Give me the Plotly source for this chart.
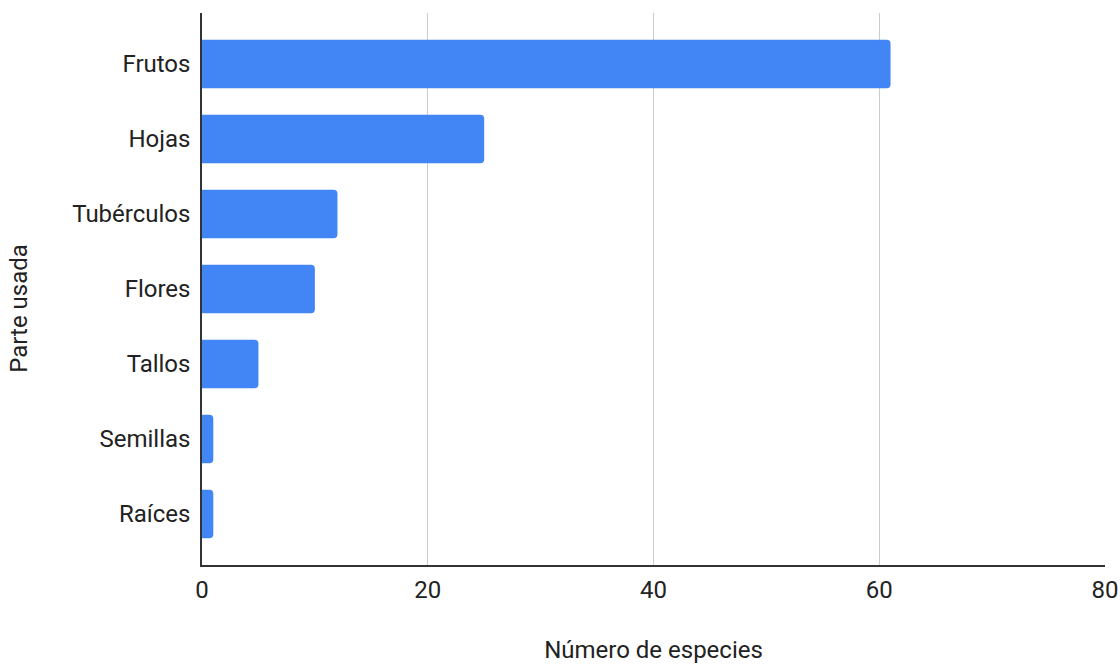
import plotly.graph_objects as go

categories = ["Frutos", "Hojas", "Tubérculos", "Flores", "Tallos", "Semillas", "Raíces"]
values = [61, 25, 12, 10, 5, 1, 1]
x_ticks = [0, 20, 40, 60, 80]
x_title = "Número de especies"
y_title = "Parte usada"

fig = go.Figure(go.Bar(
    x=values, y=categories, orientation="h",
    marker=dict(color="#4285F4", line=dict(width=0)),
    width=0.645,
))

font = "Roboto, Arial, sans-serif"
fs = 24
W, H = 1120, 664
ml, mr, mt, mb = 201.5, 15, 12.7, 99
pw, ph = W - ml - mr, H - mt - mb

fig.update_layout(
    width=W, height=H,
    margin=dict(l=ml, r=mr, t=mt, b=mb),
    plot_bgcolor="white", paper_bgcolor="white",
    barcornerradius=4,
    showlegend=False,
    font=dict(family=font, size=fs, color="#222222"),
)
fig.update_xaxes(
    range=[0, 80], tickvals=x_ticks, ticktext=[str(t) for t in x_ticks],
    showgrid=True, gridcolor="#cccccc", gridwidth=1,
    zeroline=False, showline=True, linecolor="#333333", linewidth=1.5,
    ticks="", ticklabelstandoff=2, automargin=False,
    title=dict(text=x_title, font=dict(size=fs, color="#222222"), standoff=40),
    tickfont=dict(size=fs, color="#222222"),
)
fig.update_yaxes(
    categoryorder="array", categoryarray=categories,
    range=[6.68, -0.68],
    showgrid=False, zeroline=False, showline=True, linecolor="#333333", linewidth=1.5,
    ticks="", ticklabelstandoff=5, automargin=False,
    tickfont=dict(size=fs, color="#222222"),
)
fig.add_annotation(
    text=y_title, textangle=-90, showarrow=False,
    xref="paper", yref="paper",
    x=(19 - ml) / pw, y=(mt + ph - 308) / ph,
    xanchor="center", yanchor="middle",
    font=dict(size=fs, color="#222222", family=font),
)

fig.write_html("out.html")
